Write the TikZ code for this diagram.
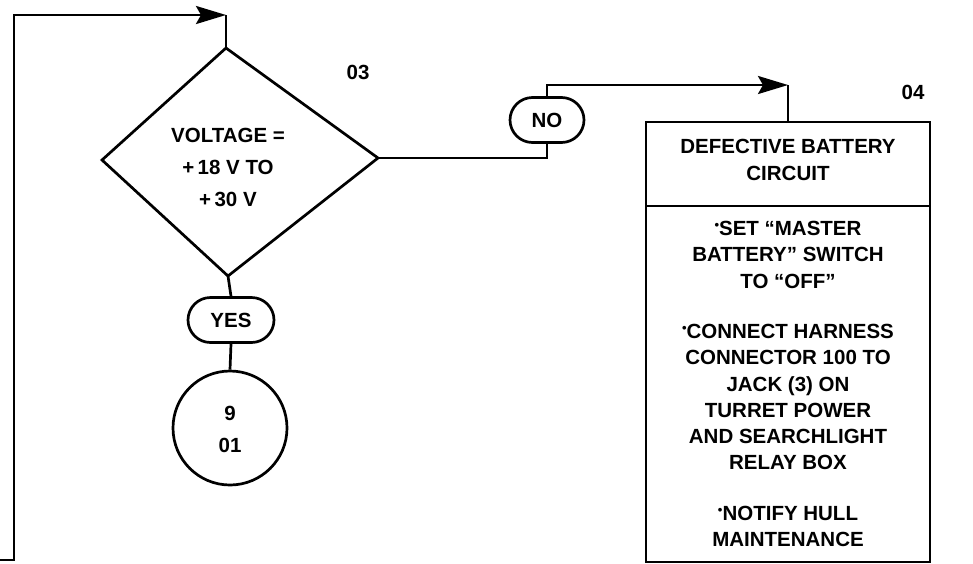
\documentclass[tikz,border=0pt]{standalone}
\usepackage{fontspec}
\setmainfont{Liberation Sans}
\usetikzlibrary{shapes.geometric,shapes.misc,arrows.meta}
\newcommand{\bul}{{\fontsize{13}{13}\selectfont\raisebox{0.9ex}{•}}}
\tikzset{
  ln/.style={line width=2.7pt, line join=miter},
  arr/.style={ln, -{Stealth[length=30pt,width=18pt,inset=5pt]}},
  txt/.style={font=\bfseries\fontsize{20.5}{32}\selectfont, align=center, inner sep=0pt},
  boxtxt/.style={font=\bfseries\fontsize{20.5}{26.3}\selectfont, align=center, inner sep=0pt},
  pill/.style={ln, draw, rounded rectangle, minimum height=45pt, inner sep=0pt, font=\bfseries\fontsize{20.5}{24}\selectfont},
  frame/.style={ln, draw, inner sep=0pt, outer sep=0pt, minimum width=284pt}
}
\begin{document}
\begin{tikzpicture}[x=1pt,y=-1pt]
\useasboundingbox[fill=white] (0,0) rectangle (973,563);
% decision
\coordinate (dt) at (226,48);
\coordinate (dl) at (102,160);
\coordinate (dr) at (378,158);
\coordinate (db) at (228,276);
\draw[ln] (dt) -- (dr) -- (db) -- (dl) -- cycle;
\node[txt] (diatext) at (228,167) {VOLTAGE =\\+\,18 V TO\\+\,30 V};
\node[txt] (n03) at (358,72) {03};
% yes branch
\node[pill, minimum width=86pt] (yes) at (231,320) {YES};
\node[ln, draw, circle, minimum size=114pt, inner sep=0pt] (circ) at (230,428) {};
\node[txt] (circtext) at (230,429) {9\\01};
% no branch
\node[pill, minimum width=74pt] (no) at (547,120) {NO};
\node[txt] (n04) at (913,92) {04};
% action box
\node[frame, minimum height=84pt] (hdr) at (788,164) {};
\node[boxtxt] (hdrtext) at (788,160) {DEFECTIVE BATTERY\\CIRCUIT};
\node[frame, minimum height=356pt, anchor=north] (body) at (hdr.south) {};
\node[boxtxt] (bodytext) at (788,384) {\bul SET ``MASTER\\BATTERY'' SWITCH\\TO ``OFF''\\[24pt]%
\bul CONNECT HARNESS\\CONNECTOR 100 TO\\JACK (3) ON\\TURRET POWER\\AND SEARCHLIGHT\\RELAY BOX\\[24pt]%
\bul NOTIFY HULL\\MAINTENANCE};
% connectors
\coordinate (l0) at (0,560);
\coordinate (l1) at (14,560);
\coordinate (l2) at (14,15);
\coordinate (l3) at (dt |- l2);
\draw[arr] (l0) -- (l1) -- (l2) -- (l3);
\draw[ln] (l3) -- (dt);
\draw[ln] (db) -- (yes.north);
\draw[ln] (yes.south) -- (circ.north);
\draw[ln] (dr) -| (no.south);
\coordinate (c2) at (hdr.north |- 0,85);
\draw[arr] (no.north) |- (c2);
\draw[ln] (c2) -- (hdr.north);
\end{tikzpicture}
\end{document}
